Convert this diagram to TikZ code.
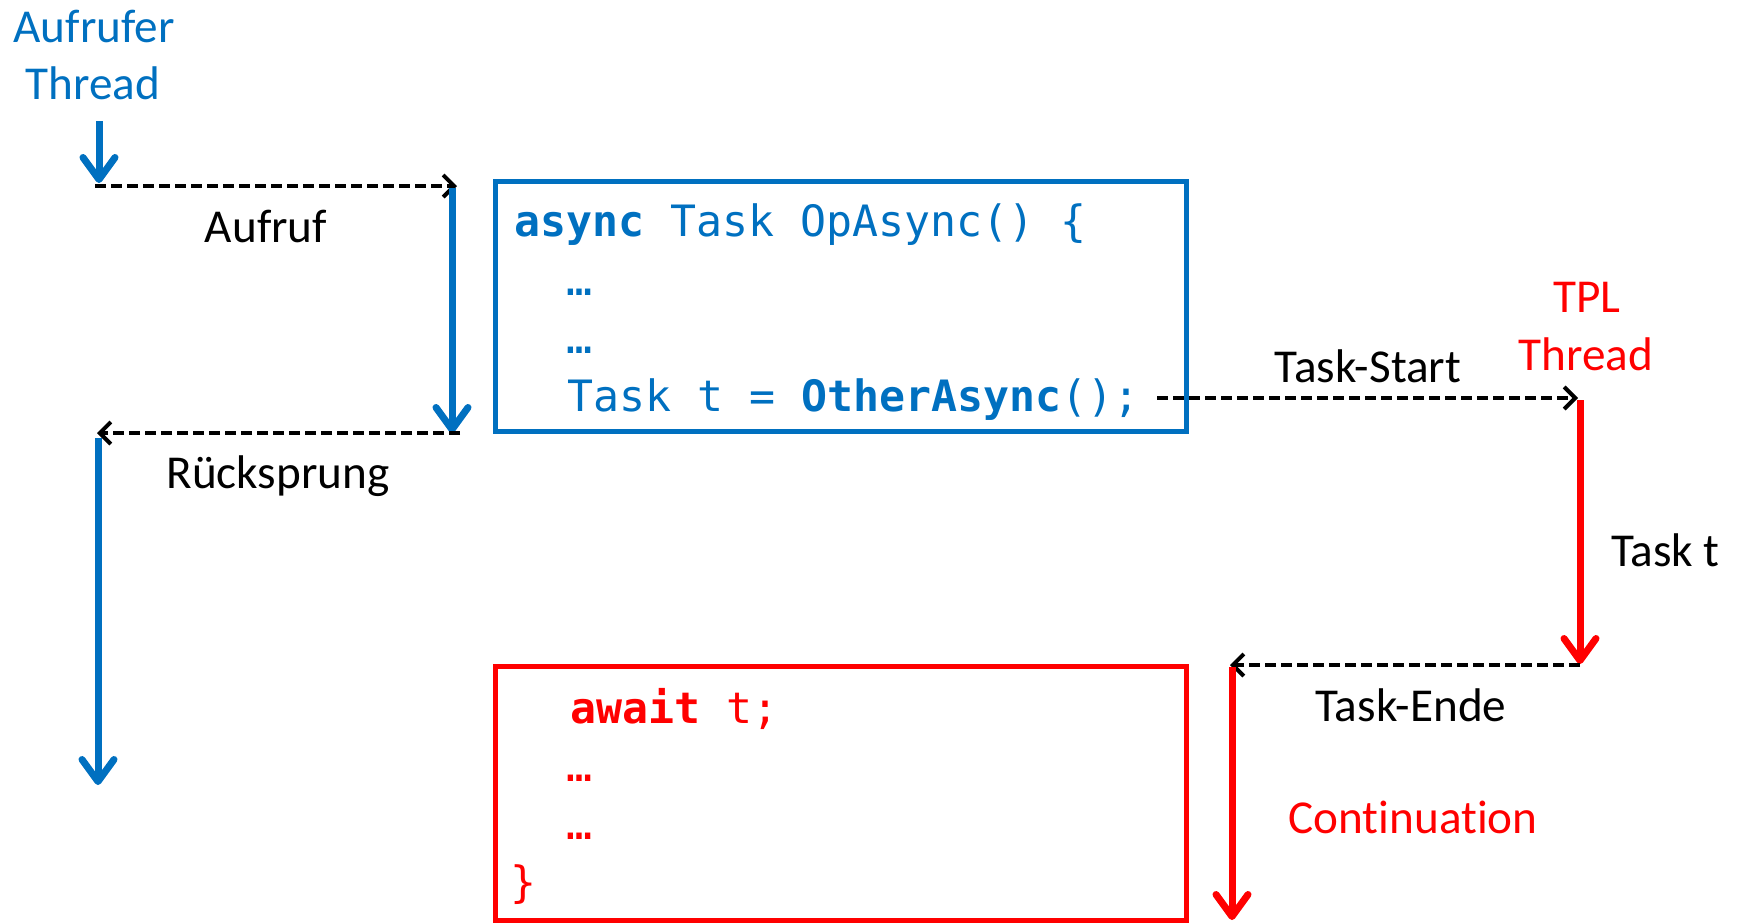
\documentclass[tikz,border=0pt]{standalone}
\usepackage{fontspec}
\setmainfont{Carlito}[Ligatures=NoCommon]
\newfontfamily\codefont{DejaVu Sans Mono}
\usetikzlibrary{arrows.meta}
\definecolor{thblue}{HTML}{0070C0}
\definecolor{thred}{HTML}{FF0000}

\begin{document}
\begin{tikzpicture}[x=0.5pt,y=-0.5pt,
  lbl/.style={font=\fontsize{23.6}{28}\selectfont, inner sep=0pt, anchor=base},
  code/.style={font=\codefont\fontsize{21.6}{26}\selectfont, inner sep=0pt, anchor=base west},
  flow/.style={line width=3.5pt, -{Straight Barb[length=11pt,width=16pt,line cap=round,line join=round]}},
  hop/.style={line width=2pt, dash pattern=on 5.5pt off 2.5pt, -{Straight Barb[length=5.5pt,width=11pt]}},
  frame/.style={draw, line width=2.5pt, rectangle, inner sep=0pt},
]
\useasboundingbox (0,0) rectangle (1740,923);

% thread labels
\node[lbl, text=thblue] (callerA) at (94,42) {Aufrufer};
\node[lbl, text=thblue] (callerB) at (93,99) {Thread};
\node[lbl, text=thred] (tplA) at (1587,312) {TPL};
\node[lbl, text=thred] (tplB) at (1586,370) {Thread};

% code boxes
\node[frame, draw=thblue, minimum width=345.5pt, minimum height=125pt] (opBox) at (840.5,306.5) {};
\node[frame, draw=thred, minimum width=345.5pt, minimum height=127pt] (contBox) at (840.5,793.5) {};

% method body before the await
\node[code, text=thblue] (l1) at (514,236) {\textbf{async} Task OpAsync() \{};
\node[code, text=thblue] (l2) at (566,295) {…};
\node[code, text=thblue] (l3) at (566,353) {…};
\node[code, text=thblue] (l4) at (567,411) {Task t = \textbf{OtherAsync}();};

% continuation after the await
\node[code, text=thred] (m1) at (570,723) {\textbf{await} t;};
\node[code, text=thred] (m2) at (566,781) {…};
\node[code, text=thred] (m3) at (566,839) {…};
\node[code, text=thred] (m4) at (510,897) {\}};

% points along the threads
\coordinate (callTop) at (99,121);
\coordinate (callTip) at (99,183);
\coordinate (callOut) at (95,186);
\coordinate (opIn) at (457,186);
\coordinate (opTop) at (452,188);
\coordinate (opBot) at (452,433);
\coordinate (opOut) at (460,433);
\coordinate (retIn) at (97,433);
\coordinate (retTop) at (98,438);
\coordinate (retEnd) at (98,785);
\coordinate (startOut) at (1157,398);
\coordinate (tplIn) at (1578,398);
\coordinate (tplTop) at (1580,400);
\coordinate (tplBot) at (1580,664);
\coordinate (endOut) at (1580,665);
\coordinate (contIn) at (1230,665);
\coordinate (contTop) at (1232,667);
\coordinate (contEnd) at (1232,920);

% control flow
\draw[flow, thblue] (callTop) -- (callTip);
\draw[hop] (callOut) -- (opIn);
\draw[flow, thblue] (opTop) -- (opBot);
\draw[hop] (opOut) -- (retIn);
\draw[flow, thblue] (retTop) -- (retEnd);
\draw[hop] (startOut) -- (tplIn);
\draw[flow, thred] (tplTop) -- (tplBot);
\draw[hop] (endOut) -- (contIn);
\draw[flow, thred] (contTop) -- (contEnd);

% edge labels
\node[lbl] (aufruf) at (266,242) {Aufruf};
\node[lbl] (ruecksprung) at (278,488) {Rücksprung};
\node[lbl] (taskStart) at (1368,382) {Task-Start};
\node[lbl, anchor=base west] (taskT) at (1611,566) {Task t};
\node[lbl] (taskEnde) at (1411,721) {Task-Ende};
\node[lbl, text=thred] (contLbl) at (1413,833) {Continuation};
\end{tikzpicture}
\end{document}
